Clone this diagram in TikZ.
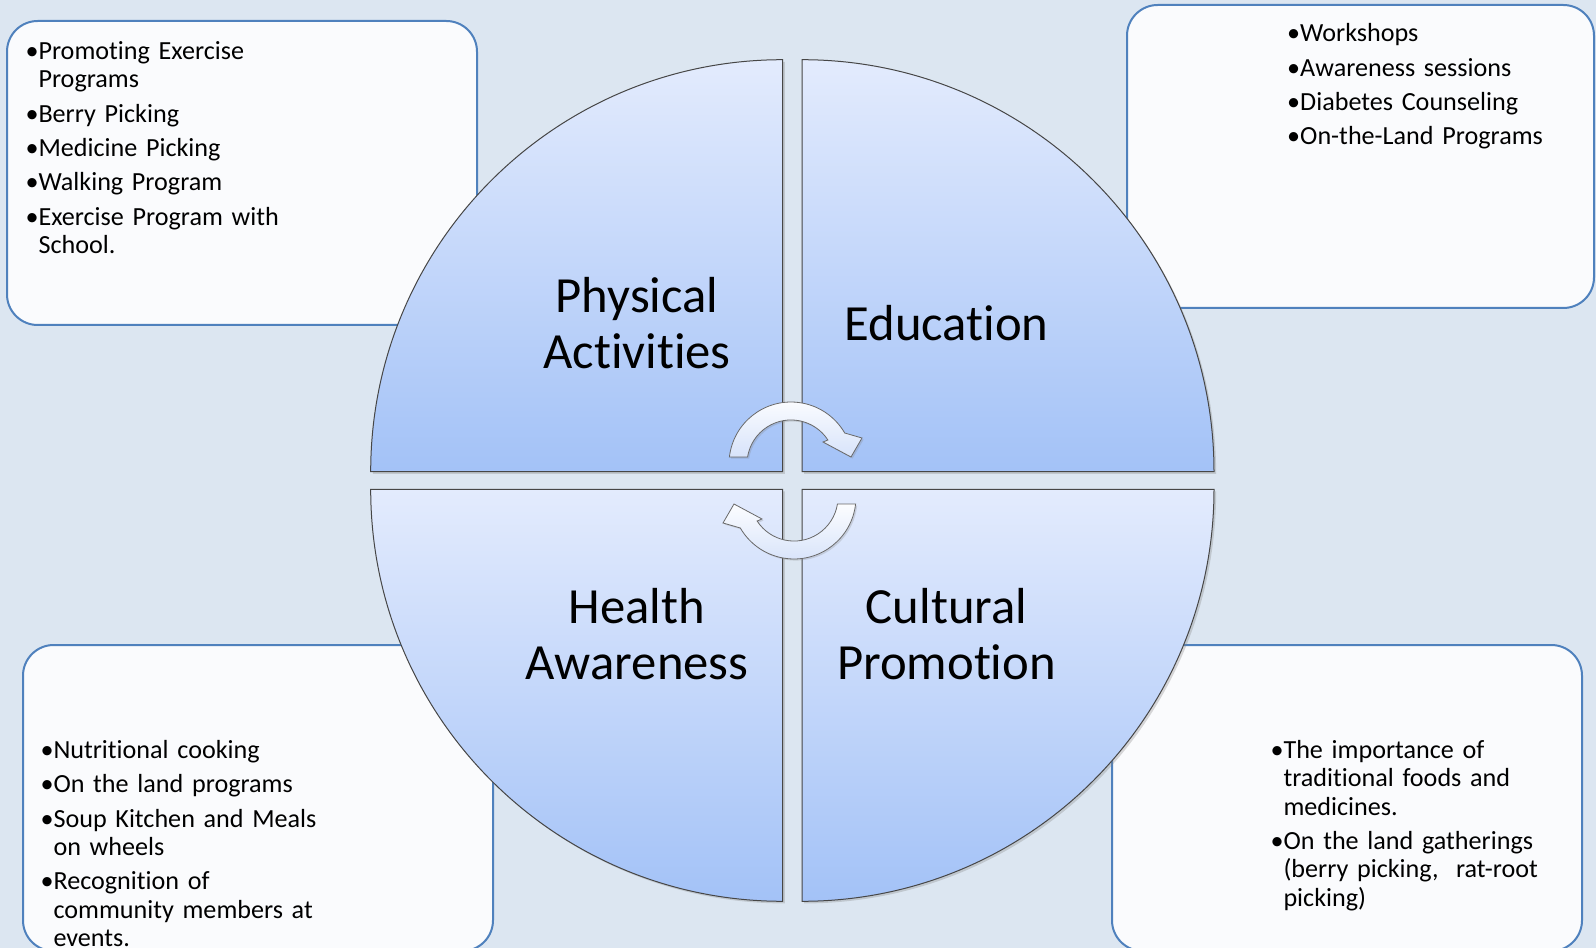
\documentclass[tikz,border=0pt]{standalone}
\usepackage{fontspec}
\setmainfont{Carlito}[Ligatures=NoCommon]
\usetikzlibrary{shadows}

\definecolor{pagebg}{RGB}{220,230,241}
\definecolor{boxfill}{RGB}{250,251,253}
\definecolor{boxline}{RGB}{79,129,189}
\definecolor{quadtop}{RGB}{227,235,253}
\definecolor{quadbot}{RGB}{163,194,247}
\definecolor{quadline}{RGB}{70,70,70}
\definecolor{arrowtop}{RGB}{252,253,255}
\definecolor{arrowbot}{RGB}{215,227,250}
\definecolor{arrowline}{RGB}{105,105,105}

\tikzset{every picture/.style={line width=0.75pt}}
\tikzset{
  listbox/.style={draw=boxline, line width=1.5pt, fill=boxfill, rounded corners=23pt},
  quarter/.style={draw=quadline, line width=0.75pt, top color=quadtop, bottom color=quadbot,
    drop shadow={shadow xshift=1.6pt, shadow yshift=-1.6pt, opacity=0.3}},
  turnarrow/.style={draw=arrowline, line width=0.6pt, top color=arrowtop, bottom color=arrowbot,
    drop shadow={shadow xshift=1.2pt, shadow yshift=-1.2pt, opacity=0.25}},
  listtext/.style={anchor=base west, inner sep=0pt, text width=300pt, align=left,
    font=\fontsize{19.6}{21.3}\selectfont},
  quadlabel/.style={anchor=base, inner sep=0pt, text width=250pt, align=center,
    font=\fontsize{38}{42}\selectfont}
}

\begin{document}
\begin{tikzpicture}[x=0.75pt,y=0.75pt,yscale=-1,xscale=1]
\useasboundingbox (0,0) rectangle (1596,948);
\fill[pagebg] (0,0) rectangle (1596,948);

%Shape: Rounded Rect (top left)
\draw[listbox] (7,21) rectangle (477,325);
%Shape: Rounded Rect (top right)
\draw[listbox] (1127,5) rectangle (1594,308);
%Shape: Rounded Rect (bottom left)
\draw[listbox] (23,645) rectangle (493,951);
%Shape: Rounded Rect (bottom right)
\draw[listbox] (1112,645) rectangle (1582,951);

%Shape: Quarter Circle (top left)
\draw[quarter] (782.7,471.7) -- (370.7,471.7) arc[start angle=180, end angle=270, radius=412] -- cycle;
%Shape: Quarter Circle (top right)
\draw[quarter] (802,471.7) -- (802,59.7) arc[start angle=270, end angle=360, radius=412] -- cycle;
%Shape: Quarter Circle (bottom left)
\draw[quarter] (782.7,489.3) -- (782.7,901.3) arc[start angle=90, end angle=180, radius=412] -- cycle;
%Shape: Quarter Circle (bottom right)
\draw[quarter] (802,489.3) -- (1214,489.3) arc[start angle=0, end angle=90, radius=412] -- cycle;

%Shape: Circular Arrow (top)
\draw[turnarrow] (729.4,457) arc[start angle=186.5, end angle=330, radius=62] -- (862,438) -- (851,457) -- (823,442) -- (827.9,440) arc[start angle=327, end angle=189.2, radius=44] -- cycle;
%Shape: Circular Arrow (bottom)
\draw[turnarrow] (855.6,504) arc[start angle=6.5, end angle=150, radius=62] -- (723,523) -- (734,504) -- (762,519) -- (757.1,521) arc[start angle=147, end angle=9.2, radius=44] -- cycle;

% Text Node
\node[quadlabel] (physical) at (637,313) {Physical\\Activities};
% Text Node
\node[quadlabel] (education) at (946.5,341) {Education};
% Text Node
\node[quadlabel] (health) at (637,623) {Health\\Awareness};
% Text Node
\node[quadlabel] (cultural) at (946.5,623) {Cultural\\Promotion};

% Text Node
\node[listtext] (physical list) at (25,59.3) {•Promoting Exercise\\\phantom{•}Programs\\[4.5pt]•Berry Picking\\[4.5pt]•Medicine Picking\\[4.5pt]•Walking Program\\[4.5pt]•Exercise Program with\\\phantom{•}School.};
% Text Node
\node[listtext] (education list) at (1286.7,41.7) {•Workshops\\[4.5pt]•Awareness sessions\\[4.5pt]•Diabetes Counseling\\[4.5pt]•On-the-Land Programs};
% Text Node
\node[listtext] (health list) at (40,758.3) {•Nutritional cooking\\[4.5pt]•On the land programs\\[4.5pt]•Soup Kitchen and Meals\\\phantom{•}on wheels\\[4.5pt]•Recognition of\\\phantom{•}community members at\\\phantom{•}events.};
% Text Node
\node[listtext] (cultural list) at (1270,758.3) {•The importance of\\\phantom{•}traditional foods and\\\phantom{•}medicines.\\[4.5pt]•On the land gatherings\\\phantom{•}(berry picking,~ rat-root\\\phantom{•}picking)};

\end{tikzpicture}
\end{document}
